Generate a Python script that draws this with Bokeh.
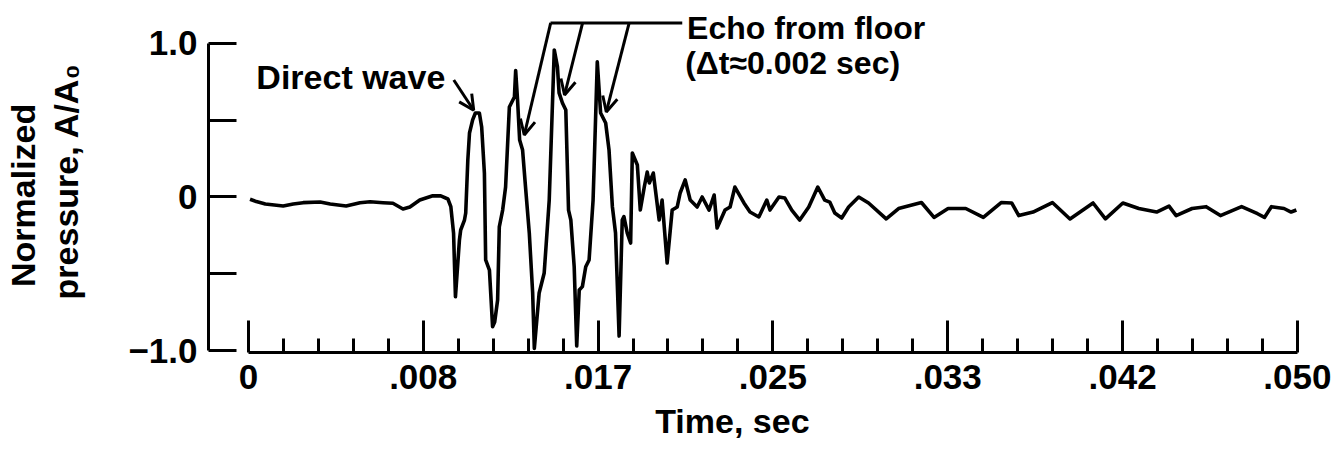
import numpy as np
from bokeh.plotting import figure
from bokeh.models import ColumnDataSource, FixedTicker, Label, Arrow, OpenHead
from bokeh.embed import file_html
from bokeh.resources import INLINE

# ---------------- data ----------------
time_ms = [0.08, 0.38, 0.81, 1.66, 2.14, 2.61, 3.42, 3.90, 4.66, 5.32, 5.80, 6.42, 6.89,
           7.37, 7.70, 8.17, 8.79, 9.17, 9.51, 9.65, 9.78, 9.87, 10.06, 10.12, 10.30,
           10.36, 10.46, 10.54, 10.69, 10.82, 11.01, 11.12, 11.25, 11.31, 11.49, 11.64,
           11.74, 11.88, 11.96, 12.12, 12.26, 12.44, 12.68, 12.74, 12.83, 12.93, 13.07,
           13.21, 13.39, 13.55, 13.63, 13.86, 14.10, 14.34, 14.42, 14.58, 14.73, 14.81,
           14.97, 15.13, 15.26, 15.37, 15.53, 15.65, 15.77, 15.92, 16.08, 16.24, 16.43,
           16.48, 16.63, 16.79, 17.03, 17.19, 17.35, 17.50, 17.67, 17.82, 17.90, 18.06,
           18.22, 18.30, 18.54, 18.68, 18.87, 19.01, 19.11, 19.30, 19.58, 19.72, 19.96,
           20.20, 20.44, 20.58, 20.82, 21.06, 21.39, 21.63, 21.96, 22.20, 22.34, 22.72,
           22.96, 23.19, 23.62, 23.91, 24.33, 24.71, 24.86, 25.29, 25.57, 25.90, 26.28,
           26.71, 27.14, 27.47, 27.71, 27.95, 28.28, 28.61, 29.09, 29.56, 30.40, 30.99,
           32.08, 32.68, 33.35, 34.19, 35.03, 35.88, 36.38, 36.72, 37.40, 38.32, 39.16,
           40.26, 40.85, 41.68, 42.44, 43.29, 43.88, 44.22, 44.98, 45.65, 46.33, 47.34,
           48.10, 48.43, 48.76, 49.36, 49.70, 49.95]
pressure = [-0.015, -0.030, -0.046, -0.059, -0.046, -0.037, -0.033, -0.046, -0.059, -0.037,
            -0.031, -0.037, -0.041, -0.078, -0.065, -0.020, 0.008, 0.007, -0.013, -0.063,
            -0.235, -0.650, -0.280, -0.215, -0.150, -0.104, 0.241, 0.417, 0.502, 0.547,
            0.547, 0.456, 0.156, -0.410, -0.476, -0.845, -0.814, -0.671, -0.195, -0.085,
            0.065, 0.586, 0.651, 0.823, 0.632, 0.371, 0.306, 0.065, -0.235, -0.625, -0.986,
            -0.625, -0.495, -0.020, 0.306, 0.958, 0.849, 0.678, 0.612, 0.567, -0.085,
            -0.150, -0.456, -0.971, -0.606, -0.584, -0.454, -0.410, -0.020, 0.197, 0.881,
            0.547, 0.482, 0.306, -0.063, -0.235, -0.906, -0.150, -0.128, -0.235, -0.300,
            0.287, 0.208, -0.085, 0.065, 0.163, 0.091, 0.156, -0.150, -0.020, -0.430,
            -0.085, -0.065, 0.026, 0.111, -0.020, -0.065, 0.000, -0.085, 0.013, -0.202,
            -0.085, -0.065, 0.065, -0.039, -0.098, -0.130, -0.020, -0.085, 0.000, -0.007,
            -0.085, -0.150, -0.065, 0.065, -0.020, -0.033, -0.104, -0.137, -0.065, 0.000,
            -0.039, -0.143, -0.075, -0.036, -0.133, -0.075, -0.075, -0.133, -0.036, -0.039,
            -0.121, -0.098, -0.036, -0.143, -0.039, -0.143, -0.039, -0.075, -0.098, -0.059,
            -0.121, -0.075, -0.063, -0.121, -0.063, -0.109, -0.133, -0.063, -0.075, -0.098,
            -0.085]

x_tick_values = [0.0, 0.008333, 0.016667, 0.025, 0.033333, 0.041667, 0.05]
x_tick_labels = ["0", ".008", ".017", ".025", ".033", ".042", ".050"]
y_tick_values = [-1.0, -0.5, 0.0, 0.5, 1.0]
y_tick_labels = ["\u22121.0", "", "0", "", "1.0"]

NB = "\u00a0"
x_title = "Time, sec" + NB * 5
y_title = "Normalized" + NB * 4 + "\n" + "pressure, A/A\u2080" + NB
direct_text = "Direct wave"
echo_text = ["Echo from floor", "(\u0394t\u22480.002 sec)"]

# annotation anchor points (data units)
direct_label_pos = (0.00038, 0.78)
direct_arrow = ((0.00979, 0.762), (0.01074, 0.565))
echo_bar = ((0.0144, 1.134), (0.02068, 1.134))
echo_arrows = [((0.01441, 1.134), (0.01315, 0.404)),
               ((0.01593, 1.134), (0.01507, 0.665)),
               ((0.01815, 1.134), (0.01706, 0.554))]
echo_label_pos = [(0.02091, 1.103), (0.02082, 0.875)]

FONT = "Liberation Sans"
TICK_FS = "35px"
TITLE_FS = "34px"
ANN_FS = "32px"
INK = "#000000"

src = ColumnDataSource(dict(t=np.array(time_ms) / 1000.0, a=pressure))

p = figure(width=1333, height=452, output_backend="svg", toolbar_location=None,
           x_range=(-0.0019, 0.05029), y_range=(-1.013, 1.28),
           min_border_left=204, min_border_right=30, min_border_top=0, min_border_bottom=100)
p.outline_line_color = None
p.xgrid.visible = False
p.ygrid.visible = False
p.background_fill_color = "white"
p.border_fill_color = "white"

p.line("t", "a", source=src, line_color=INK, line_width=3.6, line_join="round")

# x axis
xa = p.xaxis[0]
minor = []
for i in range(len(x_tick_values) - 1):
    a0, a1 = x_tick_values[i], x_tick_values[i + 1]
    minor += list(np.linspace(a0, a1, 6)[1:-1])
xa.ticker = FixedTicker(ticks=x_tick_values, minor_ticks=minor)
xa.major_label_overrides = {v: l for v, l in zip(x_tick_values, x_tick_labels)}
xa.bounds = (0, 0.05)
xa.axis_line_width = 3
xa.axis_line_color = INK
xa.major_tick_in = 32
xa.major_tick_out = 0
xa.minor_tick_in = 14
xa.minor_tick_out = 0
xa.major_tick_line_width = 3
xa.minor_tick_line_width = 3
xa.major_label_standoff = 12
xa.major_label_text_font = FONT
xa.major_label_text_font_style = "bold"
xa.major_label_text_font_size = TICK_FS
xa.major_label_text_color = INK
xa.axis_label = x_title
xa.axis_label_text_font = FONT
xa.axis_label_text_font_style = "bold"
xa.axis_label_text_font_size = TITLE_FS
xa.axis_label_text_color = INK
xa.axis_label_standoff = 10

# y axis
ya = p.yaxis[0]
ya.ticker = FixedTicker(ticks=y_tick_values, minor_ticks=[])
ya.major_label_overrides = {v: l for v, l in zip(y_tick_values, y_tick_labels)}
ya.bounds = (-1, 1)
ya.axis_line_width = 3
ya.axis_line_color = INK
ya.major_tick_in = 28
ya.major_tick_out = 0
ya.minor_tick_in = 0
ya.minor_tick_out = 0
ya.major_tick_line_width = 3
ya.major_label_standoff = 11
ya.major_label_text_font = FONT
ya.major_label_text_font_style = "bold"
ya.major_label_text_font_size = TICK_FS
ya.major_label_text_color = INK
ya.axis_label = y_title
ya.axis_label_text_font = FONT
ya.axis_label_text_font_style = "bold"
ya.axis_label_text_font_size = TITLE_FS
ya.axis_label_text_color = INK
ya.axis_label_standoff = 40
ya.axis_label_text_line_height = 1.15

# annotations
p.add_layout(Label(x=direct_label_pos[0], y=direct_label_pos[1], text=direct_text,
                   text_font=FONT, text_font_style="bold", text_font_size=TITLE_FS,
                   text_baseline="alphabetic", text_color=INK))
(x0, y0), (x1, y1) = direct_arrow
p.add_layout(Arrow(x_start=x0, y_start=y0, x_end=x1, y_end=y1, line_width=3, line_color=INK,
                   end=OpenHead(size=15, line_width=3, line_color=INK)))
(x0, y0), (x1, y1) = echo_bar
p.add_layout(Arrow(x_start=x0, y_start=y0, x_end=x1, y_end=y1, line_width=3, line_color=INK,
                   end=None))
for (x0, y0), (x1, y1) in echo_arrows:
    p.add_layout(Arrow(x_start=x0, y_start=y0, x_end=x1, y_end=y1, line_width=3,
                       line_color=INK, end=OpenHead(size=15, line_width=3, line_color=INK)))
for (lx, ly), txt in zip(echo_label_pos, echo_text):
    p.add_layout(Label(x=lx, y=ly, text=txt, text_font=FONT, text_font_style="bold",
                       text_font_size=ANN_FS, text_baseline="alphabetic", text_color=INK))

open("out.html", "w").write(file_html(p, INLINE))
